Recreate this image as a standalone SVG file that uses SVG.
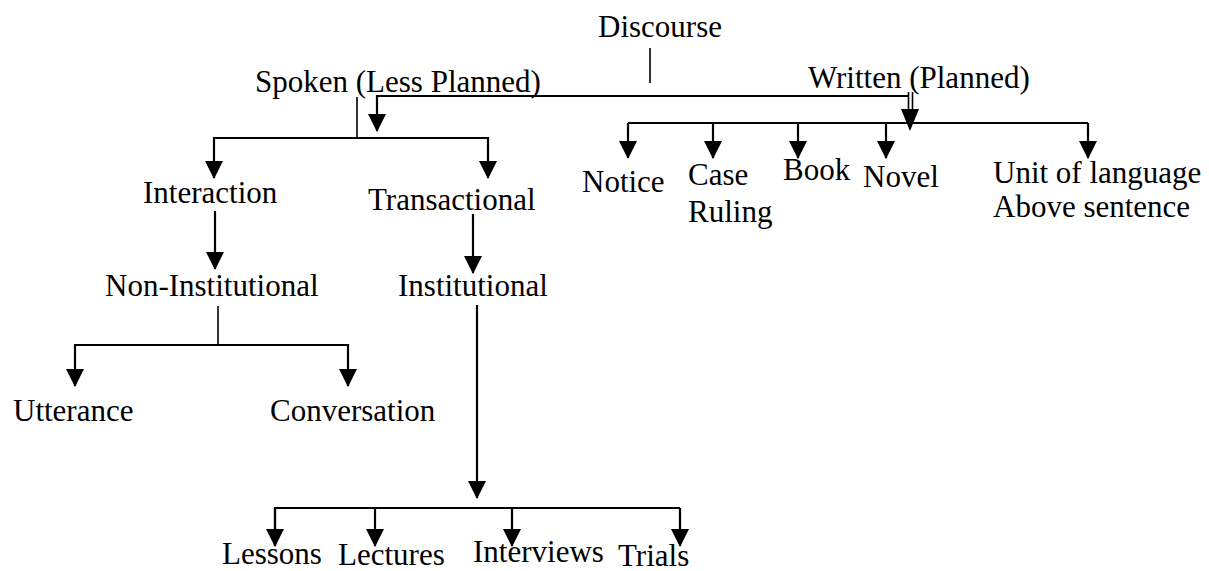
<svg xmlns="http://www.w3.org/2000/svg" width="1209" height="571" viewBox="0 0 1209 571">
<style>
text { font-family: "Liberation Serif", "Times New Roman", serif; font-size: 31px; fill: #000; }
.ln { fill: none; stroke: #000; stroke-width: 2.2; }
.thin { fill: none; stroke: #000; stroke-width: 1.6; }
.ar { marker-end: url(#ah); }
</style>
<defs>
<marker id="ah" viewBox="0 0 18 18" refX="17" refY="9" markerWidth="18" markerHeight="18" markerUnits="userSpaceOnUse" orient="auto">
<path d="M0,0 L18,9 L0,18 z" fill="#000"/>
</marker>
</defs>
<rect width="1209" height="571" fill="#fff"/>
<g id="connectors">
<path class="thin" d="M650,48 V83"/>
<path class="ln ar" d="M909,96 H377 V131"/>
<path class="thin" d="M908.5,92 V112 M912.5,92 V112"/>
<polygon points="901,109 919,109 910,131" fill="#000"/>
<path class="thin" d="M357,97 V138"/>
<path class="ln ar" d="M357,138 H214 V178"/>
<path class="ln ar" d="M357,138 H488 V178"/>
<path class="ln ar" d="M215,211 V269"/>
<path class="ln ar" d="M473,214 V273"/>
<path class="thin" d="M218,306 V345"/>
<path class="ln ar" d="M218,345 H75 V386"/>
<path class="ln ar" d="M218,345 H348 V386"/>
<path class="ln ar" d="M477,305 V498"/>
<path class="ln" d="M275,546 V508 H680"/>
<path class="ln ar" d="M275,508 V546"/>
<path class="ln ar" d="M375,508 V546"/>
<path class="ln ar" d="M512,508 V546"/>
<path class="ln ar" d="M680,508 V546"/>
<path class="ln" d="M628,123 H1088"/>
<path class="ln ar" d="M628,123 V158"/>
<path class="ln ar" d="M713,123 V158"/>
<path class="ln ar" d="M798,123 V158"/>
<path class="ln ar" d="M886,123 V158"/>
<path class="ln ar" d="M1088,123 V158"/>
</g>
<g id="discourse"><text x="598" y="37">Discourse</text></g>
<g id="spoken"><text x="255" y="92">Spoken (Less Planned)</text></g>
<g id="written"><text x="808" y="88">Written (Planned)</text></g>
<g id="interaction"><text x="143" y="203">Interaction</text></g>
<g id="transactional"><text x="368" y="210">Transactional</text></g>
<g id="non-institutional"><text x="105" y="296">Non-Institutional</text></g>
<g id="institutional"><text x="398" y="296">Institutional</text></g>
<g id="utterance"><text x="13" y="421">Utterance</text></g>
<g id="conversation"><text x="270" y="421">Conversation</text></g>
<g id="lessons"><text x="222" y="564">Lessons</text></g>
<g id="lectures"><text x="338" y="565">Lectures</text></g>
<g id="interviews"><text x="473" y="562">Interviews</text></g>
<g id="trials"><text x="618" y="566">Trials</text></g>
<g id="notice"><text x="582" y="192">Notice</text></g>
<g id="case-ruling"><text x="688" y="185">Case</text><text x="688" y="222">Ruling</text></g>
<g id="book"><text x="783" y="180">Book</text></g>
<g id="novel"><text x="863" y="187">Novel</text></g>
<g id="unit"><text x="993" y="183">Unit of language</text><text x="993" y="217">Above sentence</text></g>
</svg>
